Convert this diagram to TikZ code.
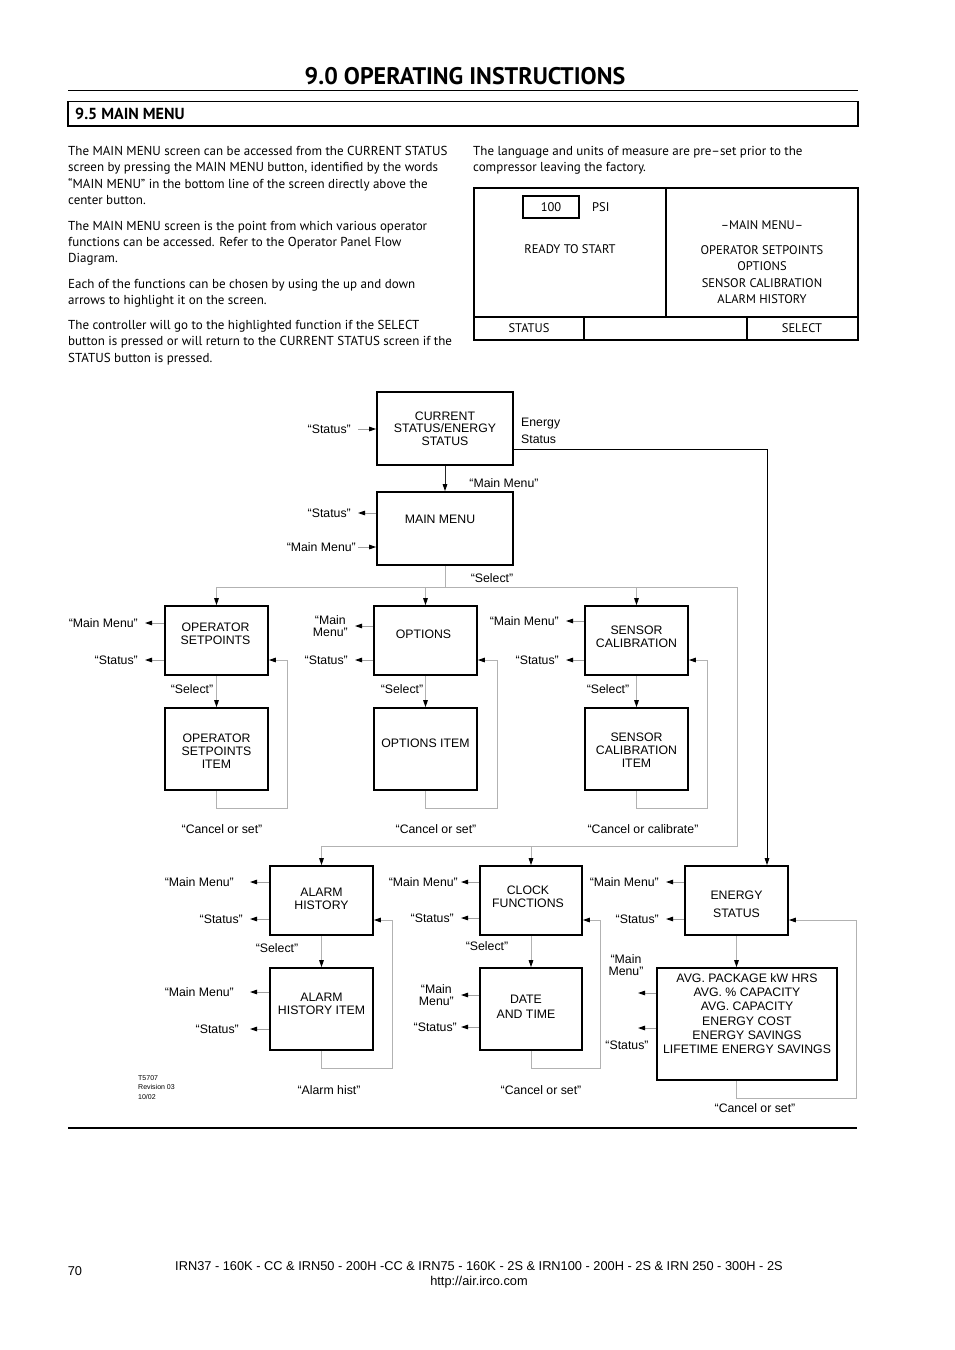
\documentclass[tikz,border=0pt]{standalone}
\usepackage{fontspec}
\setmainfont{PT Sans}
\newfontfamily\diafont{Liberation Sans}
\usetikzlibrary{positioning, arrows.meta}

\newcommand{\dia}{\diafont\fontsize{12.3}{12.7}\selectfont}
\newcommand{\scr}{\rmfamily\fontsize{12.5}{16.3}\selectfont}

\begin{document}
\begin{tikzpicture}[x=1pt, y=-1pt,
    box/.style={draw, line width=1.6pt, minimum width=103pt, minimum height=69pt, inner sep=0pt},
    itembox/.style={box, minimum height=82pt},
    boxtext/.style={font=\dia, align=center, inner sep=0pt},
    lbl/.style={font=\dia, align=center, inner xsep=7pt, inner ysep=1pt},
    gline/.style={gray!60, line width=0.9pt},
    garrow/.style={gline, -{Triangle[length=7pt, width=4.5pt, color=black]}},
    karrow/.style={black!85, line width=1pt, -{Triangle[length=7pt, width=4.5pt, color=black]}},
    sarrow/.style={gray!75, line width=0.9pt, -{Triangle[length=7pt, width=4.5pt, color=black]}},
    body/.style={font=\fontsize{13}{16.4}\selectfont, align=left, inner sep=0pt, anchor=north west}]
    \useasboundingbox (0,0) rectangle (954,1350);

    % heading
    \node[font=\bfseries\fontsize{24}{28}\selectfont, inner sep=0pt] (title) at (465,76) {9.0 OPERATING INSTRUCTIONS};
    \draw[line width=1pt] (68,90.5) -- (858,90.5);
    \draw[line width=1.5pt] (68,101.5) rectangle (858,126);
    \node[font=\bfseries\fontsize{16}{18}\selectfont, anchor=west, inner sep=0pt] (sect) at (75,113.5) {9.5 MAIN MENU};

    \node[body] (txtl) at (68,146) {The MAIN MENU screen can be accessed from the CURRENT STATUS\\
        screen by pressing the MAIN MENU button, identified by the words\\
        “MAIN MENU” in the bottom line of the screen directly above the\\
        center button.\\[9pt]
        The MAIN MENU screen is the point from which various operator\\
        functions can be accessed. Refer to the Operator Panel Flow\\
        Diagram.\\[9pt]
        Each of the functions can be chosen by using the up and down\\
        arrows to highlight it on the screen.\\[8.5pt]
        The controller will go to the highlighted function if the SELECT\\
        button is pressed or will return to the CURRENT STATUS screen if the\\
        STATUS button is pressed.};
    \node[body] (txtr) at (473,146) {The language and units of measure are pre–set prior to the\\
        compressor leaving the factory.};

    % screen
    \draw[line width=1.8pt] (474,188) rectangle (858,340);
    \draw[line width=1.4pt] (666,188) -- (666,317) (474,317) -- (858,317) (584,317) -- (584,340) (747,317) -- (747,340);
    \node[draw, line width=1.2pt, minimum width=56pt, minimum height=22pt, font=\scr] (psi) at (551,207) {100};
    \node[font=\scr, anchor=west, inner sep=0pt] (psiu) at (592,207) {PSI};
    \node[font=\scr] (ready) at (570,249) {READY TO START};
    \node[font=\scr] (mtitle) at (762,225) {–MAIN MENU–};
    \node[font=\scr, align=center] (mlist) at (762,274.5) {OPERATOR SETPOINTS\\OPTIONS\\SENSOR CALIBRATION\\ALARM HISTORY};
    \node[font=\scr] (kst) at (529,328) {STATUS};
    \node[font=\scr] (ksel) at (802,328) {SELECT};

    % flow diagram boxes
    \node[box, minimum width=136pt, minimum height=73pt, label={[boxtext]center:{CURRENT\\STATUS/ENERGY\\STATUS}}] (cs) at (445,428.5) {};
    \node[box, minimum width=136pt, minimum height=73pt, label={[boxtext, xshift=-5pt, yshift=9.5pt]center:{MAIN MENU}}] (mm) at (445,528.5) {};
    \node[box, label={[boxtext, xshift=-1pt, yshift=6.5pt]center:{OPERATOR\\SETPOINTS}}] (os) at (216.5,640.5) {};
    \node[box, label={[boxtext, xshift=-2pt, yshift=6.5pt]center:{OPTIONS}}] (opt) at (425.5,640.5) {};
    \node[box, label={[boxtext, yshift=3.5pt]center:{SENSOR\\CALIBRATION}}] (sc) at (636.5,640.5) {};
    \node[itembox, label={[boxtext, yshift=-2pt]center:{OPERATOR\\SETPOINTS\\ITEM}}] (osi) at (216.5,749) {};
    \node[itembox, label={[boxtext, yshift=6pt]center:{OPTIONS ITEM}}] (oi) at (425.5,749) {};
    \node[itembox, label={[boxtext, yshift=-1pt]center:{SENSOR\\CALIBRATION\\ITEM}}] (sci) at (636.5,749) {};
    \node[box, label={[boxtext, yshift=2pt]center:{ALARM\\HISTORY}}] (ah) at (321.5,900.5) {};
    \node[box, minimum width=102pt, label={[boxtext, xshift=-3pt, yshift=3.5pt]center:{CLOCK\\FUNCTIONS}}] (cf) at (531,900.5) {};
    \node[box, label={[boxtext, yshift=-3.5pt]center:{ENERGY\\[5pt]STATUS}}] (es) at (736.5,900.5) {};
    \node[itembox, label={[boxtext, yshift=5.5pt]center:{ALARM\\HISTORY ITEM}}] (ahi) at (321.5,1009) {};
    \node[itembox, minimum width=102pt, label={[boxtext, xshift=-5pt, yshift=2.5pt]center:{DATE\\[2pt]AND TIME}}] (dt) at (531,1009) {};
    \node[box, minimum width=180pt, minimum height=112pt,
        label={[boxtext, font=\diafont\fontsize{12.3}{14.2}\selectfont, yshift=10.5pt]center:{AVG. PACKAGE kW HRS\\AVG. \% CAPACITY\\AVG. CAPACITY\\ENERGY COST\\ENERGY SAVINGS\\LIFETIME ENERGY SAVINGS}}] (eb) at (747,1024) {};

    % side labels
    \node[lbl, anchor=east] (cs-st) at (358,429) {“Status”};
    \node[lbl, anchor=west, align=left, inner xsep=0pt, font=\diafont\fontsize{12.3}{17}\selectfont] (cs-en) at (521,430.5) {Energy\\Status};
    \node[lbl, anchor=east] (mm-st) at (358,513) {“Status”};
    \node[lbl, anchor=east, inner xsep=2pt] (mm-mm) at (358,547) {“Main Menu”};
    \node[lbl, anchor=east] (os-mm) at (145,623) {“Main Menu”};
    \node[lbl, anchor=east] (os-st) at (145,660) {“Status”};
    \node[lbl, anchor=east] (opt-mm) at (355,626) {“Main\\Menu”};
    \node[lbl, anchor=east] (opt-st) at (355,660) {“Status”};
    \node[lbl, anchor=east] (sc-mm) at (566,621) {“Main Menu”};
    \node[lbl, anchor=east] (sc-st) at (566,660) {“Status”};
    \node[lbl, anchor=east, inner xsep=16pt] (ah-mm) at (250,882) {“Main Menu”};
    \node[lbl, anchor=east] (ah-st) at (250,919) {“Status”};
    \node[lbl, anchor=east, inner xsep=16pt] (ahi-mm) at (250,992) {“Main Menu”};
    \node[lbl, anchor=east, inner xsep=11pt] (ahi-st) at (250,1029) {“Status”};
    \node[lbl, anchor=east, inner xsep=3pt] (cf-mm) at (461,882) {“Main Menu”};
    \node[lbl, anchor=east] (cf-st) at (461,918) {“Status”};
    \node[lbl, anchor=east] (dt-mm) at (461,995) {“Main\\Menu”};
    \node[lbl, anchor=east, inner xsep=4pt] (dt-st) at (461,1027) {“Status”};
    \node[lbl, anchor=east] (es-mm) at (666,882) {“Main Menu”};
    \node[lbl, anchor=east] (es-st) at (666,919) {“Status”};
    \node[lbl, inner sep=0pt] (eb-mm) at (626,965) {“Main\\Menu”};
    \node[lbl, inner sep=0pt] (eb-st) at (627,1045) {“Status”};
    \coordinate (eb-a) at (638,993);
    \coordinate (eb-b) at (638,1028);

    \node[lbl] (cs-mm) at (504,483) {“Main Menu”};
    \node[lbl] (mm-sel) at (492,578) {“Select”};
    \node[lbl] (os-sel) at (192,689) {“Select”};
    \node[lbl] (opt-sel) at (402,689) {“Select”};
    \node[lbl] (sc-sel) at (608,689) {“Select”};
    \node[lbl] (ah-sel) at (277,948) {“Select”};
    \node[lbl] (cf-sel) at (487,946) {“Select”};
    \node[lbl] (os-can) at (222,829) {“Cancel or set”};
    \node[lbl] (opt-can) at (436,829) {“Cancel or set”};
    \node[lbl] (sc-can) at (643,829) {“Cancel or calibrate”};
    \node[lbl] (ah-can) at (329,1090) {“Alarm hist”};
    \node[lbl] (cf-can) at (541,1090) {“Cancel or set”};
    \node[lbl] (es-can) at (755,1108) {“Cancel or set”};

    % connectors
    \coordinate (bus1) at (0,587);
    \coordinate (bus2) at (0,846);
    \coordinate (busr) at (737,587);
    \coordinate (ecorner) at (767,449);
    \coordinate (row2b) at (0,808);
    \coordinate (row4b) at (0,1068);
    \coordinate (ebb) at (0,1098);
    \coordinate (osl) at (287,660);
    \coordinate (optl) at (497,660);
    \coordinate (scl) at (707,660);
    \coordinate (ahl) at (392,920);
    \coordinate (cfl) at (600,920);
    \coordinate (esl) at (856,920);

    \draw[sarrow] (cs-st.east) -- (cs-st.east -| cs.west);
    \draw[sarrow] (mm-st.east -| mm.west) -- (mm-st.east);
    \draw[sarrow] (mm-mm.east) -- (mm-mm.east -| mm.west);
    \foreach \b in {os,opt,sc,ah,ahi,cf,dt,es} {
        \draw[sarrow] (\b-mm.east -| \b.west) -- (\b-mm.east);
        \draw[sarrow] (\b-st.east -| \b.west) -- (\b-st.east);
    }
    \draw[sarrow] (eb-a -| eb.west) -- (eb-a);
    \draw[sarrow] (eb-b -| eb.west) -- (eb-b);

    \draw[karrow] (cs) -- (mm);
    \draw[karrow, black] (cs.east |- ecorner) -- (ecorner) -- (ecorner |- es.north);
    \draw[gline] (mm) -- (mm.south |- bus1);
    \draw[gline] (os.north |- bus1) -- (busr) -- (busr |- bus2) -- (ah.north |- bus2);
    \foreach \b in {os,opt,sc} \draw[garrow] (\b.north |- bus1) -- (\b);
    \foreach \b in {ah,cf} \draw[garrow] (\b.north |- bus2) -- (\b);
    \foreach \a/\b in {os/osi, opt/oi, sc/sci, ah/ahi, cf/dt} \draw[garrow] (\a) -- (\b);
    \draw[garrow] (es.south) -- (es.south |- eb.north);

    \foreach \a/\b/\c in {osi/os/osl, oi/opt/optl, sci/sc/scl}
        \draw[garrow] (\a.south) -- (\a.south |- row2b) -| (\c) -- (\c -| \b.east);
    \draw[garrow] (ahi.south) -- (ahi.south |- row4b) -| (ahl) -- (ahl -| ah.east);
    \draw[garrow] (dt.south) -- (dt.south |- row4b) -| (cfl) -- (cfl -| cf.east);
    \draw[garrow] (es.south |- eb.south) -- (es.south |- ebb) -| (esl) -- (esl -| es.east);

    \node[font=\diafont\fontsize{7}{9.5}\selectfont, align=left, anchor=north west, inner sep=0pt] (ref) at (138,1075) {T5707\\Revision 03\\10/02};

    % footer
    \draw[line width=1.4pt] (68,1128) -- (857,1128);
    \node[font=\diafont\fontsize{12.8}{15}\selectfont, inner sep=0pt] (page) at (75,1271) {70};
    \node[font=\diafont\fontsize{12.8}{15}\selectfont, align=center] (models) at (479,1275) {IRN37 - 160K - CC \& IRN50 - 200H -CC \& IRN75 - 160K - 2S \& IRN100 - 200H - 2S \& IRN 250 - 300H - 2S\\http://air.irco.com};
\end{tikzpicture}
\end{document}
